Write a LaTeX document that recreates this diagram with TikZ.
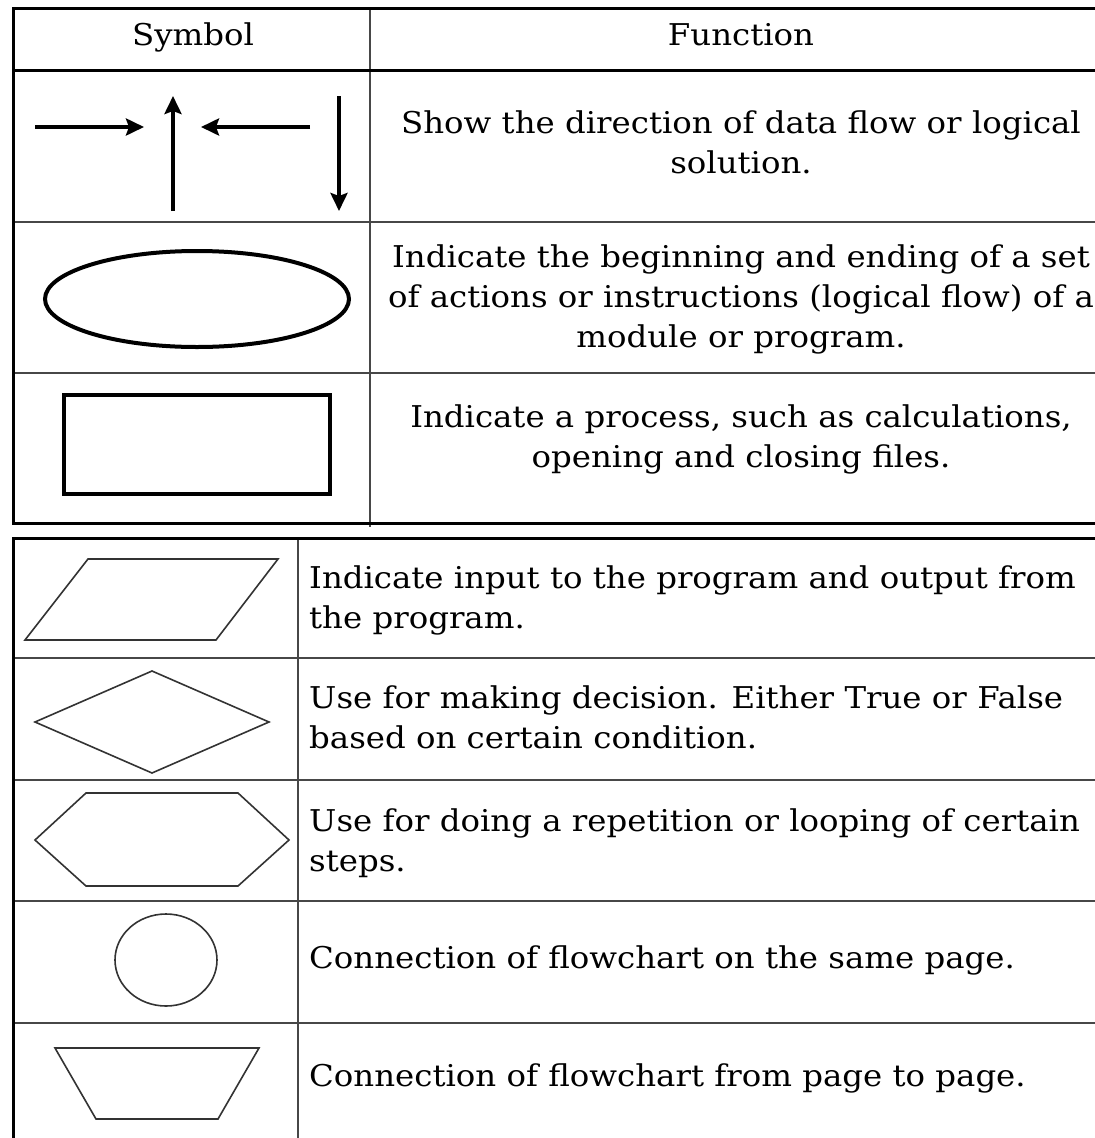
\documentclass[tikz,border=0pt]{standalone}
\usepackage{fontspec}
\setmainfont[FakeStretch=1.08]{DejaVu Serif}
\usetikzlibrary{arrows.meta}

\begin{document}
\begin{tikzpicture}[x=1pt,y=-1pt,
  outer/.style={line width=3pt, black},
  inner/.style={line width=2.2pt, black!72},
  flowarrow/.style={line width=4.5pt, -{Stealth[length=18pt,width=17pt,inset=3pt]}},
  boldshape/.style={line width=4pt, black},
  thinshape/.style={line width=1.6pt, black!80, line join=miter},
  txt/.style={inner sep=0pt, font=\fontsize{30}{40}\selectfont},
  ctxt/.style={txt, align=center},
  ltxt/.style={txt, align=left, anchor=west},
]
\useasboundingbox (0,0) rectangle (1095,1138);
\fill[white] (0,0) rectangle (1095,1138);

% ---------- upper table ----------
\draw[inner] (370,8) -- (370,527);
\draw[inner] (13,222) -- (1095,222);
\draw[inner] (13,373) -- (1095,373);
\draw[outer] (13,70) -- (1095,70);
\draw[outer] (1095,8) -- (13,8) -- (13,523) -- (1095,523);

\node[txt, anchor=base] (hsym) at (193,45) {Symbol};
\node[txt, anchor=base] (hfun) at (741,45) {Function};

% flow lines
\draw[flowarrow] (35,127) -- (144,127);
\draw[flowarrow] (173,211) -- (173,96);
\draw[flowarrow] (310,127) -- (201,127);
\draw[flowarrow] (339,96) -- (339,211);
\node[ctxt] (fflow) at (741,142.5) {Show the direction of data flow or logical\\solution.};

% terminal
\draw[boldshape] (197,299) ellipse [x radius=152, y radius=48];
\node[ctxt] (fterm) at (741,299) {Indicate the beginning and ending of a set\\of actions or instructions (logical flow) of a\\module or program.};

% process
\draw[boldshape] (64,395) rectangle (330,494);
\node[ctxt] (fproc) at (741,439) {Indicate a process, such as calculations,\\opening and closing files.};

% ---------- lower table ----------
\draw[inner] (298,538) -- (298,1138);
\draw[inner] (13,658) -- (1095,658);
\draw[inner] (13,780) -- (1095,780);
\draw[inner] (13,901) -- (1095,901);
\draw[inner] (13,1023) -- (1095,1023);
\draw[outer] (1095,538) -- (13,538) -- (13,1138);

% input / output
\draw[thinshape] (88,559) -- (278,559) -- (216,640) -- (25,640) -- cycle;
\node[ltxt] (fio) at (309,600.5) {Indicate input to the program and output from\\the program.};

% decision
\draw[thinshape] (35,722) -- (152,671) -- (269,722) -- (152,773) -- cycle;
\node[ltxt] (fdec) at (309,717) {Use for making decision. Either True or False\\based on certain condition.};

% loop
\draw[thinshape] (35,840) -- (86,793) -- (238,793) -- (289,840) -- (238,886) -- (86,886) -- cycle;
\node[ltxt] (floop) at (309,843) {Use for doing a repetition or looping of certain\\steps.};

% on-page connector
\draw[thinshape] (166,960) ellipse [x radius=51, y radius=46];
\node[ltxt] (fonp) at (309,960) {Connection of flowchart on the same page.};

% off-page connector
\draw[thinshape] (55,1048) -- (259,1048) -- (218,1119) -- (96,1119) -- cycle;
\node[ltxt] (foffp) at (309,1078) {Connection of flowchart from page to page.};
\end{tikzpicture}
\end{document}
